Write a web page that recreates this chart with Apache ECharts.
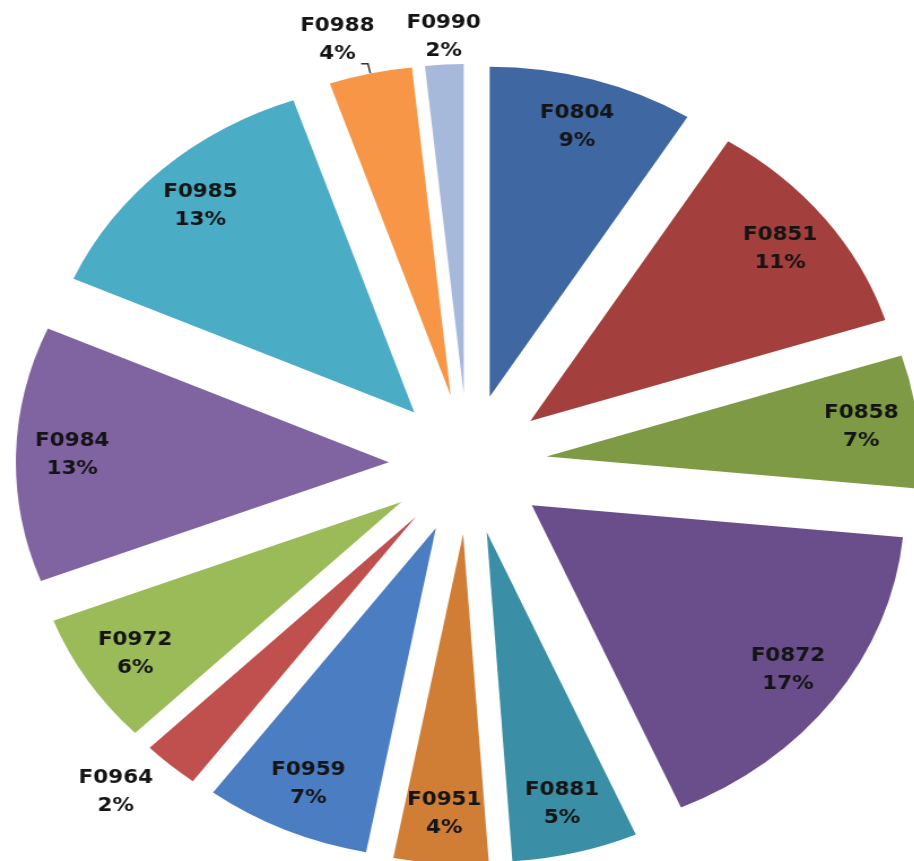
<!DOCTYPE html>
<html>
<head>
<meta charset="utf-8">
<script src="https://cdn.jsdelivr.net/npm/echarts@6/dist/echarts.min.js"></script>
<style>
  html, body { margin: 0; padding: 0; background: #fff; overflow: hidden; }
  /* the original picture is stretched sideways, so the pie is too */
  #chart { width: 809px; height: 861px; transform: scaleX(1.13); transform-origin: 0 0; }
</style>
</head>
<body>
<div id="chart"></div>
<script>
const categories = ['F0804', 'F0851', 'F0858', 'F0872', 'F0881', 'F0951', 'F0959',
  'F0964', 'F0972', 'F0984', 'F0985', 'F0988', 'F0990'];
// shares in % (labels show them rounded)
const shares = [8.9, 11.15, 6.5, 16.9, 5.45, 4.1, 7.2, 2.45, 6.49, 12.5, 13.1, 3.6, 1.66];
const colors = ['#3f67a1', '#a33f3c', '#7f9a45', '#6a4e8b', '#3a8ea6', '#d07e36', '#4b7dc2',
  '#c0504d', '#9bbb59', '#8064a2', '#4bacc6', '#f79646', '#a7b9db'];
// these small slices have their label outside the slice
const outsideLabels = ['F0964', 'F0988', 'F0990'];

const center = [414, 464];
const R = 330;
const explode = 70;

// small nudges for the outside labels
var nudge = {
  F0964: { dx: -25, dy: 6 },
  F0988: { dx: -16, dy: -24 },
  F0990: { dx: 6, dy: 2 }
};

var chart = echarts.init(document.getElementById('chart'));

var labelFont = {
  fontFamily: 'DejaVu Sans',
  fontWeight: 'bold',
  fontSize: 19,
  lineHeight: 28,
  color: '#141414'
};

chart.setOption({
  animation: false,
  series: [
    {
      type: 'pie',
      center: center,
      radius: [0, R],
      startAngle: 90,
      clockwise: true,
      selectedMode: 'multiple',
      selectedOffset: explode,
      silent: true,
      label: { show: false },
      labelLine: { show: false },
      data: categories.map(function (name, i) {
        return { name: name, value: shares[i], selected: true, itemStyle: { color: colors[i] } };
      })
    },
    {
      // transparent ring just for placing the labels near the rim
      type: 'pie',
      center: center,
      radius: [R * 0.68, R],
      startAngle: 90,
      clockwise: true,
      selectedMode: 'multiple',
      selectedOffset: explode,
      silent: true,
      avoidLabelOverlap: false,
      itemStyle: { color: 'rgba(0,0,0,0)' },
      label: Object.assign({
        show: true,
        position: 'inside',
        formatter: function (p) { return p.name + '\n' + Math.round(p.percent) + '%'; }
      }, labelFont),
      labelLine: { show: false },
      labelLayout: function (params) {
        var n = nudge[categories[params.dataIndex]];
        if (!n) return {};
        return { align: 'center', dx: n.dx, dy: n.dy };
      },
      data: categories.map(function (name, i) {
        var item = { name: name, value: shares[i], selected: true };
        if (outsideLabels.indexOf(name) >= 0) {
          item.label = { position: 'outside' };
          item.labelLine = name === 'F0988'
            ? { show: true, length: 10, length2: 6, lineStyle: { color: '#333', width: 1.5 } }
            : { show: false, length: name === 'F0964' ? 28 : 30, length2: 0 };
        }
        return item;
      })
    }
  ]
});
</script>
</body>
</html>
